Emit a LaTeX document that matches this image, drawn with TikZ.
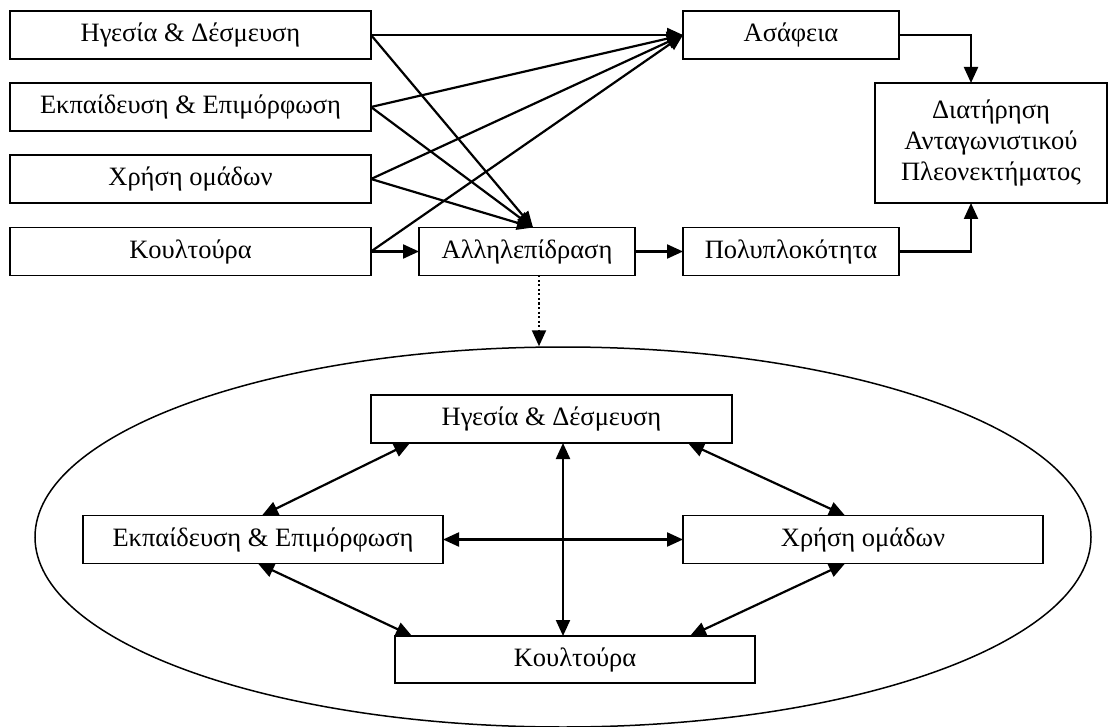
\documentclass[tikz,border=0pt]{standalone}
\usepackage{fontspec}
\setmainfont{Liberation Serif}
\usetikzlibrary{arrows.meta,shapes.geometric}
\begin{document}
\begin{tikzpicture}[x=1pt,y=-1pt,
  box/.style={draw,line width=1.5pt,rectangle,inner sep=0pt,outer sep=0pt,
    font=\fontsize{26.5}{31}\selectfont,align=center},
  arr/.style={line width=2.2pt,-{Triangle[length=16pt,width=14pt]}},
  darr/.style={line width=2.2pt,{Triangle[length=16pt,width=14pt]}-{Triangle[length=16pt,width=14pt]}},
  dotarr/.style={line width=2.2pt,dash pattern=on 2pt off 2.5pt,-{Triangle[length=16pt,width=14pt]}}]
\useasboundingbox (0,0) rectangle (1108,727);

% top part
\node[box,minimum width=361pt,minimum height=48pt] (L1) at (190.5,35) {Ηγεσία \& Δέσμευση};
\node[box,minimum width=361pt,minimum height=48pt] (L2) at (190.5,107) {Εκπαίδευση \& Επιμόρφωση};
\node[box,minimum width=361pt,minimum height=48pt] (L3) at (190.5,179) {Χρήση ομάδων};
\node[box,minimum width=361pt,minimum height=48pt] (L4) at (190.5,251.5) {Κουλτούρα};
\node[box,minimum width=216pt,minimum height=48pt] (As) at (791,35) {Ασάφεια};
\node[box,minimum width=216pt,minimum height=48pt] (Al) at (527,251.5) {Αλληλεπίδραση};
\node[box,minimum width=216pt,minimum height=48pt] (Po) at (791,251.5) {Πολυπλοκότητα};
\node[box,minimum width=232pt,minimum height=120pt] (D) at (991,143) {Διατήρηση\\Ανταγωνιστικού\\Πλεονεκτήματος};

\coordinate (AlTop) at ([xshift=6pt]Al.north);
\draw[arr] (L1.east) -- (As.west);
\draw[arr] (L1.east) -- (AlTop);
\draw[arr] (L2.east) -- (As.west);
\draw[arr] (L2.east) -- (AlTop);
\draw[arr] (L3.east) -- (As.west);
\draw[arr] (L3.east) -- (AlTop);
\draw[arr] (L4.east) -- (As.west);
\draw[arr] (L4.east) -- (Al.west);
\draw[arr] (Al.east) -- (Po.west);
\draw[arr] (As.east) -| ([xshift=-20pt]D.north);
\draw[arr] (Po.east) -| ([xshift=-20pt]D.south);

% ellipse part
\node[draw,line width=1.5pt,ellipse,inner sep=0pt,minimum width=1056pt,minimum height=380pt] (E) at (563,537) {};
\draw[dotarr] ([xshift=12pt]Al.south) -- ([xshift=-24pt]E.north);

\node[box,minimum width=361pt,minimum height=48pt] (T) at (551.5,419) {Ηγεσία \& Δέσμευση};
\node[box,minimum width=360pt,minimum height=48pt] (Lf) at (263,539.5) {Εκπαίδευση \& Επιμόρφωση};
\node[box,minimum width=360pt,minimum height=48pt] (Rt) at (863,539.5) {Χρήση ομάδων};
\node[box,minimum width=360pt,minimum height=47pt] (B) at (575,659.5) {Κουλτούρα};

\draw[darr] ([xshift=11.5pt]T.south) -- ([xshift=-12pt]B.north);
\draw[darr] (Lf.east) -- (Rt.west);
\draw[darr] ([xshift=39pt]T.south west) -- ([xshift=-1pt]Lf.north);
\draw[darr] ([xshift=-44pt]T.south east) -- ([xshift=-18pt]Rt.north);
\draw[darr] ([xshift=-5pt]Lf.south) -- ([xshift=17pt]B.north west);
\draw[darr] ([xshift=-18pt]Rt.south) -- ([xshift=-65pt]B.north east);
\end{tikzpicture}
\end{document}
